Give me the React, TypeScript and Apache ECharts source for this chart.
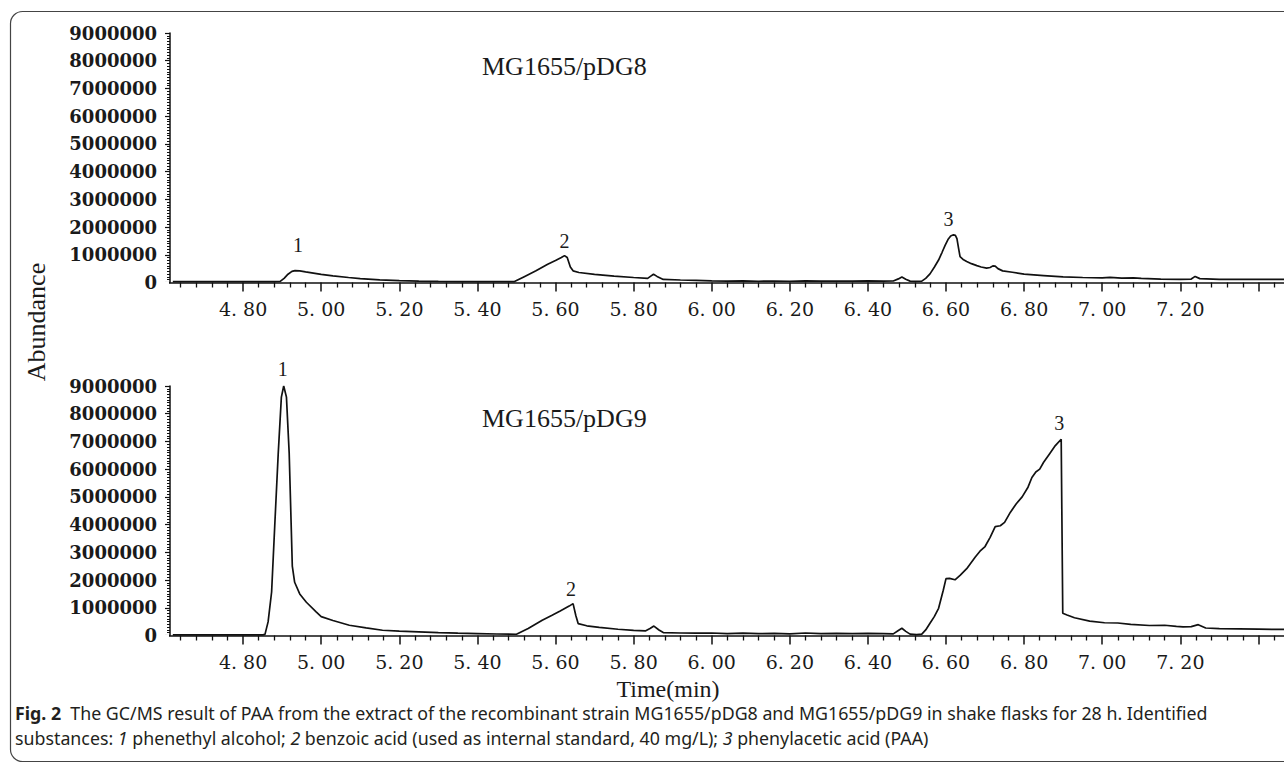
import React, { useEffect, useRef } from "react";
import * as echarts from "echarts";

// ---- Data ----
const timePDG8 = [4.62, 4.70, 4.80, 4.88, 4.895, 4.905, 4.915, 4.925, 4.933, 4.945, 4.96, 4.98, 5.00, 5.03, 5.07, 5.10, 5.15, 5.20, 5.25, 5.30, 5.35, 5.40, 5.45, 5.495, 5.52, 5.55, 5.58, 5.60, 5.615, 5.623, 5.630, 5.638, 5.645, 5.66, 5.70, 5.75, 5.80, 5.836, 5.844, 5.851, 5.86, 5.876, 5.92, 5.96, 6.00, 6.04, 6.08, 6.12, 6.16, 6.20, 6.24, 6.28, 6.32, 6.36, 6.40, 6.44, 6.465, 6.478, 6.487, 6.497, 6.508, 6.52, 6.538, 6.548, 6.559, 6.57, 6.581, 6.59, 6.598, 6.605, 6.612, 6.619, 6.624, 6.628, 6.632, 6.636, 6.645, 6.653, 6.665, 6.679, 6.69, 6.704, 6.713, 6.72, 6.726, 6.733, 6.745, 6.77, 6.80, 6.85, 6.90, 6.95, 7.00, 7.02, 7.05, 7.08, 7.10, 7.15, 7.20, 7.228, 7.238, 7.25, 7.30, 7.35, 7.40, 7.45, 7.50];
const abundPDG8 = [30000, 30000, 30000, 30000, 40000, 150000, 300000, 400000, 430000, 420000, 385000, 340000, 295000, 240000, 180000, 140000, 95000, 65000, 50000, 40000, 35000, 30000, 30000, 35000, 210000, 420000, 660000, 790000, 900000, 970000, 900000, 560000, 420000, 360000, 290000, 230000, 180000, 150000, 230000, 300000, 220000, 110000, 90000, 80000, 60000, 50000, 60000, 45000, 55000, 45000, 60000, 50000, 55000, 50000, 60000, 50000, 55000, 130000, 200000, 120000, 50000, 40000, 50000, 150000, 310000, 550000, 810000, 1090000, 1350000, 1550000, 1680000, 1720000, 1700000, 1580000, 1250000, 930000, 820000, 760000, 680000, 610000, 560000, 520000, 540000, 600000, 590000, 500000, 420000, 370000, 300000, 250000, 200000, 180000, 170000, 185000, 160000, 165000, 150000, 120000, 115000, 125000, 220000, 140000, 115000, 110000, 110000, 110000, 110000];

const timePDG9 = [4.62, 4.80, 4.85, 4.856, 4.864, 4.873, 4.881, 4.890, 4.898, 4.904, 4.911, 4.918, 4.922, 4.926, 4.932, 4.945, 4.962, 4.987, 5.00, 5.03, 5.072, 5.115, 5.157, 5.20, 5.25, 5.30, 5.35, 5.40, 5.45, 5.50, 5.53, 5.566, 5.59, 5.612, 5.635, 5.645, 5.652, 5.658, 5.68, 5.712, 5.76, 5.80, 5.83, 5.842, 5.852, 5.865, 5.876, 5.92, 5.96, 6.00, 6.04, 6.08, 6.12, 6.16, 6.20, 6.24, 6.28, 6.32, 6.36, 6.40, 6.44, 6.465, 6.478, 6.487, 6.497, 6.508, 6.525, 6.538, 6.548, 6.559, 6.57, 6.581, 6.593, 6.60, 6.609, 6.623, 6.636, 6.653, 6.675, 6.687, 6.70, 6.713, 6.726, 6.739, 6.75, 6.765, 6.78, 6.795, 6.81, 6.82, 6.83, 6.84, 6.85, 6.865, 6.88, 6.895, 6.899, 6.91, 6.929, 6.968, 7.006, 7.04, 7.073, 7.121, 7.16, 7.19, 7.207, 7.228, 7.246, 7.265, 7.30, 7.35, 7.40, 7.45, 7.50];
const abundPDG9 = [20000, 20000, 25000, 40000, 490000, 1570000, 3950000, 6580000, 8600000, 9000000, 8600000, 6580000, 4550000, 2500000, 1920000, 1500000, 1200000, 850000, 680000, 540000, 370000, 275000, 190000, 155000, 130000, 105000, 85000, 70000, 55000, 45000, 250000, 550000, 720000, 880000, 1060000, 1150000, 720000, 430000, 350000, 295000, 225000, 185000, 165000, 250000, 340000, 200000, 105000, 90000, 85000, 90000, 70000, 85000, 65000, 75000, 60000, 90000, 70000, 80000, 65000, 80000, 70000, 60000, 180000, 260000, 150000, 50000, 30000, 50000, 200000, 440000, 680000, 980000, 1630000, 2050000, 2060000, 2010000, 2170000, 2410000, 2830000, 3040000, 3210000, 3540000, 3930000, 3960000, 4080000, 4450000, 4750000, 5000000, 5350000, 5700000, 5900000, 6000000, 6250000, 6550000, 6850000, 7080000, 800000, 740000, 640000, 520000, 460000, 450000, 400000, 360000, 370000, 330000, 310000, 320000, 390000, 270000, 250000, 240000, 230000, 220000, 215000];

const peakNames = ["1", "2", "3"];
const peakTimesPDG8 = [4.933, 5.623, 6.619];
const peakTimesPDG9 = [4.904, 5.645, 6.895];

const yTicks = [0, 1000000, 2000000, 3000000, 4000000, 5000000, 6000000, 7000000, 8000000, 9000000];
const xLabelMin = 4.8;
const xLabelMax = 7.2;

const titlePDG8 = "MG1655/pDG8";
const titlePDG9 = "MG1655/pDG9";
const yName = "Abundance";
const xName = "Time(min)";
const captionLine1 = "{b|Fig. 2}  The GC/MS result of PAA from the extract of the recombinant strain MG1655/pDG8 and MG1655/pDG9 in shake flasks for 28 h. Identified";
const captionLine2 = "substances: {i|1} phenethyl alcohol; {i|2} benzoic acid (used as internal standard, 40 mg/L); {i|3} phenylacetic acid (PAA)";

const pairs = (t: number[], v: number[]) => t.map((x, i) => [x, v[i]]);
const valueAt = (t: number[], v: number[], time: number) => {
  let best = 0;
  for (let i = 0; i < t.length; i++) if (Math.abs(t[i] - time) < Math.abs(t[best] - time)) best = i;
  return v[best];
};

export default function App() {
  const ref = useRef<HTMLDivElement>(null);
  useEffect(() => {
    document.body.style.margin = "0";
    const chart = echarts.init(ref.current!, undefined, { renderer: "svg" });
    const serif = "'Liberation Serif', 'Times New Roman', serif";
    const gridLeft = 165;
    const gridWidth = 1171.5;
    const gridHeight = 249.5;
    const tops = [33, 386];
    const capFont = 17.8;

    const xAxisCommon = (gridIndex: number) => ({
      type: "value",
      gridIndex,
      min: 4.6,
      max: 7.6,
      interval: 0.2,
      axisLine: { show: true, lineStyle: { color: "#111", width: 1.5 } },
      axisTick: { show: true, length: 9, lineStyle: { color: "#111", width: 1.5 } },
      minorTick: { show: true, splitNumber: 5, length: 5, lineStyle: { color: "#111", width: 1.3 } },
      splitLine: { show: false },
      axisLabel: {
        margin: 17,
        color: "#1a1a1a",
        fontFamily: "'DejaVu Serif', serif",
        fontSize: 19,
        formatter: (v: number) =>
          v > xLabelMin - 0.01 && v < xLabelMax + 0.01 ? v.toFixed(2).replace(".", ". ") : "",
      },
    });
    const yAxisCommon = (gridIndex: number) => ({
      type: "value",
      gridIndex,
      min: yTicks[0],
      max: yTicks[yTicks.length - 1],
      interval: yTicks[1] - yTicks[0],
      offset: -5,
      axisLine: { show: true, lineStyle: { color: "#111", width: 1.5 } },
      axisTick: { show: true, length: 5, lineStyle: { color: "#111", width: 1.2 } },
      minorTick: { show: true, splitNumber: 10, length: 3, lineStyle: { color: "#111", width: 1 } },
      splitLine: { show: false },
      axisLabel: {
        margin: 13,
        color: "#1a1a1a",
        fontFamily: "'DejaVu Serif', serif",
        fontWeight: "bold",
        fontSize: 18,
        formatter: (v: number) => String(v),
      },
    });

    const peakOffsets8 = [[3, -26], [0, -15], [-5, -16]];
    const peakOffsets9 = [[-1, -17], [-2, -15], [-2, -16]];
    const markPoints = (t: number[], v: number[], times: number[], offs: number[][]) => ({
      symbol: "circle",
      symbolSize: 1,
      itemStyle: { color: "rgba(0,0,0,0)" },
      label: {
        show: true,
        position: "inside",
        formatter: "{b}",
        color: "#1a1a1a",
        fontFamily: serif,
        fontSize: 20,
      },
      data: times.map((time, i) => ({
        name: peakNames[i],
        coord: [time, valueAt(t, v, time)],
        label: { offset: offs[i] },
      })),
    });

    const lineSeries = (idx: number, t: number[], v: number[], times: number[], offs: number[][]) => ({
      type: "line",
      xAxisIndex: idx,
      yAxisIndex: idx,
      data: pairs(t, v),
      showSymbol: false,
      symbol: "none",
      lineStyle: { color: "#111", width: 1.7 },
      markPoint: markPoints(t, v, times, offs),
      z: 3,
    });

    const option: any = {
      animation: false,
      backgroundColor: "#fff",
      grid: tops.map((top) => ({
        left: gridLeft,
        top,
        width: gridWidth,
        height: gridHeight,
        outerBoundsMode: "none",
      })),
      xAxis: [xAxisCommon(0), xAxisCommon(1)],
      yAxis: [yAxisCommon(0), yAxisCommon(1)],
      series: [
        lineSeries(0, timePDG8, abundPDG8, peakTimesPDG8, peakOffsets8),
        lineSeries(1, timePDG9, abundPDG9, peakTimesPDG9, peakOffsets9),
      ],
      graphic: [
        {
          type: "rect",
          z: 100,
          shape: { x: 10.5, y: 11.5, width: 1500, height: 750, r: 12 },
          style: { fill: "none", stroke: "#444", lineWidth: 1.2 },
        },
        // hide axis stub left of the y axis (region 4.60-4.62)
        { type: "rect", z: 100, shape: { x: 160, y: tops[0] + gridHeight - 1, width: 9, height: 13 }, style: { fill: "#fff" } },
        { type: "rect", z: 100, shape: { x: 160, y: tops[1] + gridHeight - 1, width: 9, height: 13 }, style: { fill: "#fff" } },
        {
          type: "text",
          z: 100,
          x: 482,
          y: 66,
          style: { text: titlePDG8, font: `26px ${serif}`, fill: "#1a1a1a", verticalAlign: "middle", align: "left" },
        },
        {
          type: "text",
          z: 100,
          x: 482,
          y: 418,
          style: { text: titlePDG9, font: `26px ${serif}`, fill: "#1a1a1a", verticalAlign: "middle", align: "left" },
        },
        {
          type: "text",
          z: 100,
          x: 36,
          y: 322,
          rotation: Math.PI / 2,
          style: { text: yName, font: `26px ${serif}`, fill: "#1a1a1a", verticalAlign: "middle", align: "center" },
        },
        {
          type: "text",
          z: 100,
          x: 668,
          y: 689,
          style: { text: xName, font: `24px ${serif}`, fill: "#1a1a1a", verticalAlign: "middle", align: "center" },
        },
        {
          type: "text",
          z: 100,
          x: 15,
          y: 713,
          style: {
            text: captionLine1,
            font: `${capFont}px 'Noto Sans', sans-serif`,
            fill: "#231f20",
            verticalAlign: "middle",
            align: "left",
            rich: {
              b: { fontFamily: "'Noto Sans', sans-serif", fontSize: capFont, fontWeight: "bold", fill: "#231f20" },
            },
          },
        },
        {
          type: "text",
          z: 100,
          x: 15,
          y: 738,
          style: {
            text: captionLine2,
            font: `${capFont}px 'Noto Sans', sans-serif`,
            fill: "#231f20",
            verticalAlign: "middle",
            align: "left",
            rich: {
              i: { fontFamily: "'Noto Sans', sans-serif", fontSize: capFont, fontStyle: "italic", fill: "#231f20" },
            },
          },
        },
      ],
    };
    chart.setOption(option);
    return () => chart.dispose();
  }, []);
  return (
    <div style={{ position: "fixed", left: 0, top: 0, width: 1284, height: 772, overflow: "hidden" }}>
      <div ref={ref} style={{ width: 1400, height: 772 }} />
    </div>
  );
}
